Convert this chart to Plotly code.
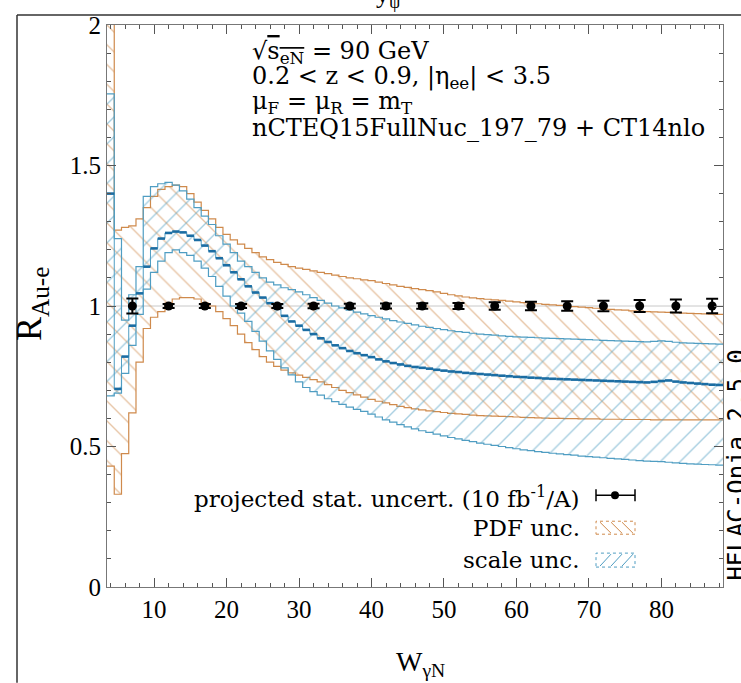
import plotly.graph_objects as go

# ---------------- data ----------------
W_CENTERS = [4, 5, 6, 7, 8, 9, 10, 11, 12, 13, 14, 15, 16, 17, 18, 19, 20, 21, 22, 23,
             24, 25, 26, 27, 28, 29, 30, 31, 32, 33, 34, 35, 36, 37, 38, 39, 40, 41, 42, 43,
             44, 45, 46, 47, 48, 49, 50, 51, 52, 53, 54, 55, 56, 57, 58, 59, 60, 61, 62, 63,
             64, 65, 66, 67, 68, 69, 70, 71, 72, 73, 74, 75, 76, 77, 78, 79, 80, 81, 82, 83,
             84, 85, 86, 87, 88]
BIN_WIDTH = 1.0

R_CENTRAL = [1.40, 0.705, 0.82, 0.93, 1.045, 1.14, 1.205, 1.24, 1.26, 1.265, 1.262, 1.25, 1.235, 1.215, 1.195, 1.17, 1.145, 1.12, 1.095, 1.07,
             1.048, 1.03, 1.01, 0.99, 0.965, 0.945, 0.93, 0.915, 0.90, 0.885, 0.872, 0.86, 0.85, 0.84, 0.832, 0.825, 0.818, 0.81, 0.803, 0.797,
             0.792, 0.787, 0.783, 0.78, 0.777, 0.773, 0.77, 0.767, 0.765, 0.762, 0.76, 0.758, 0.756, 0.754, 0.752, 0.75, 0.748, 0.747, 0.745, 0.744,
             0.742, 0.741, 0.74, 0.739, 0.738, 0.737, 0.736, 0.735, 0.734, 0.733, 0.732, 0.731, 0.73, 0.729, 0.728, 0.73, 0.733, 0.735, 0.731, 0.728,
             0.726, 0.724, 0.722, 0.72, 0.719]

SCALE_HI = [1.755, 1.24, 0.95, 1.04, 1.14, 1.39, 1.425, 1.435, 1.44, 1.43, 1.41, 1.38, 1.35, 1.32, 1.29, 1.25, 1.22, 1.19, 1.16, 1.14,
            1.12, 1.10, 1.085, 1.075, 1.065, 1.058, 1.05, 1.04, 1.03, 1.02, 1.01, 1.00, 0.993, 0.985, 0.978, 0.972, 0.966, 0.96, 0.954, 0.948,
            0.943, 0.938, 0.933, 0.928, 0.924, 0.92, 0.916, 0.912, 0.909, 0.906, 0.903, 0.90, 0.898, 0.896, 0.894, 0.892, 0.89, 0.889, 0.888, 0.887,
            0.886, 0.885, 0.884, 0.883, 0.882, 0.881, 0.88, 0.879, 0.878, 0.877, 0.876, 0.875, 0.874, 0.873, 0.872, 0.874, 0.876, 0.874, 0.871, 0.869,
            0.868, 0.867, 0.866, 0.865, 0.864]

SCALE_LO = [0.68, 0.69, 0.76, 0.86, 0.97, 1.06, 1.12, 1.16, 1.19, 1.20, 1.19, 1.18, 1.16, 1.135, 1.105, 1.07, 1.035, 1.00, 0.975, 0.945,
            0.91, 0.875, 0.84, 0.81, 0.78, 0.755, 0.73, 0.71, 0.695, 0.683, 0.67, 0.66, 0.65, 0.64, 0.632, 0.625, 0.615, 0.605, 0.595, 0.587,
            0.578, 0.57, 0.563, 0.556, 0.55, 0.544, 0.538, 0.532, 0.527, 0.522, 0.517, 0.512, 0.508, 0.504, 0.50, 0.496, 0.492, 0.488, 0.485, 0.482,
            0.479, 0.476, 0.474, 0.471, 0.469, 0.466, 0.464, 0.462, 0.46, 0.458, 0.456, 0.454, 0.452, 0.45, 0.448, 0.447, 0.446, 0.444, 0.442, 0.44,
            0.438, 0.437, 0.436, 0.435, 0.434]

PDF_HI = [2.10, 1.27, 1.28, 1.285, 1.31, 1.35, 1.39, 1.415, 1.425, 1.43, 1.425, 1.40, 1.37, 1.34, 1.31, 1.28, 1.255, 1.235, 1.22, 1.205,
          1.19, 1.175, 1.165, 1.155, 1.148, 1.14, 1.135, 1.13, 1.125, 1.12, 1.115, 1.11, 1.105, 1.10, 1.097, 1.093, 1.09, 1.085, 1.08, 1.075,
          1.07, 1.066, 1.062, 1.058, 1.055, 1.05, 1.045, 1.04, 1.036, 1.032, 1.029, 1.026, 1.024, 1.022, 1.02, 1.017, 1.015, 1.012, 1.01, 1.008,
          1.006, 1.004, 1.002, 1.0, 0.998, 0.996, 0.994, 0.992, 0.99, 0.988, 0.986, 0.985, 0.983, 0.982, 0.98, 0.979, 0.978, 0.977, 0.976, 0.975,
          0.974, 0.973, 0.972, 0.971, 0.970]

PDF_LO = [0.43, 0.33, 0.475, 0.62, 0.80, 0.92, 0.96, 0.98, 1.01, 1.025, 1.03, 1.03, 1.025, 1.01, 1.0, 0.98, 0.955, 0.93, 0.90, 0.87,
          0.845, 0.82, 0.80, 0.785, 0.772, 0.762, 0.754, 0.746, 0.738, 0.73, 0.72, 0.71, 0.70, 0.692, 0.684, 0.676, 0.668, 0.661, 0.655, 0.649,
          0.643, 0.638, 0.634, 0.63, 0.627, 0.624, 0.621, 0.618, 0.616, 0.614, 0.612, 0.61, 0.609, 0.608, 0.607, 0.606, 0.605, 0.604, 0.603, 0.602,
          0.601, 0.60, 0.60, 0.599, 0.599, 0.598, 0.598, 0.598, 0.597, 0.597, 0.597, 0.596, 0.596, 0.596, 0.596, 0.595, 0.595, 0.595, 0.595, 0.595,
          0.595, 0.595, 0.595, 0.595, 0.595]

STAT_X = [7, 12, 17, 22, 27, 32, 37, 42, 47, 52, 57, 62, 67, 72, 77, 82, 87]
STAT_Y = [1.0, 1.0, 1.0, 1.0, 1.0, 1.0, 1.0, 1.0, 1.0, 1.0, 1.0, 1.0, 1.0, 1.0, 1.0, 1.0, 1.0]
STAT_ERR = [0.027, 0.007, 0.007, 0.007, 0.007, 0.008, 0.008, 0.009, 0.010, 0.011, 0.013, 0.015, 0.017, 0.019, 0.021, 0.023, 0.026]

REF_LEVEL = 1.0
X_RANGE = [3.5, 88.5]
Y_RANGE = [0, 2]
X_TICKS = [10, 20, 30, 40, 50, 60, 70, 80]

ORANGE = "#cf8a4c"
BLUE = "#4f9dc2"
DARKBLUE = "#1b6da3"
TICKFONT = "Liberation Serif"
TEXTFONT = "DejaVu Serif"

# ---------------- figure ----------------
W, H = 741, 683
ML, MR, MT, MB = 107, 18, 23, 96


def edges(vals):
    xs = [c - BIN_WIDTH / 2 for c in W_CENTERS] + [W_CENTERS[-1] + BIN_WIDTH / 2]
    ys = list(vals) + [vals[-1]]
    return xs, ys


def flats(vals):
    xs, ys = [], []
    for c, v in zip(W_CENTERS, vals):
        xs += [c - BIN_WIDTH / 2, c + BIN_WIDTH / 2, None]
        ys += [v, v, None]
    return xs, ys


def band(lo, hi, color, shape):
    xl, yl = edges(lo)
    xh, yh = edges(hi)
    return [
        go.Scatter(x=xl, y=yl, mode="lines", line=dict(color=color, width=1.2, shape="hv"),
                   hoverinfo="skip", showlegend=False),
        go.Scatter(x=xh, y=yh, mode="lines", line=dict(color=color, width=1.2, shape="hv"),
                   fill="tonexty", fillcolor="rgba(0,0,0,0)",
                   fillpattern=dict(shape=shape, fgcolor=color, bgcolor="rgba(0,0,0,0)",
                                    size=14, solidity=0.1, fillmode="overlay"),
                   hoverinfo="skip", showlegend=False),
    ]


fig = go.Figure()
for tr in band(PDF_LO, PDF_HI, ORANGE, "\\"):
    fig.add_trace(tr)
for tr in band(SCALE_LO, SCALE_HI, BLUE, "/"):
    fig.add_trace(tr)

# central value: thin step connectors + thick flat bin tops
xc, yc = edges(R_CENTRAL)
fig.add_trace(go.Scatter(x=xc, y=yc, mode="lines", line=dict(color=BLUE, width=1, shape="hv"),
                         hoverinfo="skip", showlegend=False))
xf, yf = flats(R_CENTRAL)
fig.add_trace(go.Scatter(x=xf, y=yf, mode="lines", line=dict(color=DARKBLUE, width=2.6),
                         connectgaps=False, hoverinfo="skip", showlegend=False))

fig.add_trace(go.Scatter(x=STAT_X, y=STAT_Y, mode="markers",
                         marker=dict(color="black", size=9),
                         error_y=dict(type="data", array=STAT_ERR, color="black", thickness=2, width=6),
                         showlegend=False))

fig.add_shape(type="line", xref="paper", x0=0, x1=1, yref="y", y0=REF_LEVEL, y1=REF_LEVEL,
              line=dict(color="#c8c8c8", width=1), layer="below")

axis_common = dict(showline=True, linecolor="#777777", linewidth=1.2, mirror="ticks",
                   ticks="inside", tickcolor="#555555", ticklen=9, tickwidth=1.2,
                   showgrid=False, zeroline=False,
                   tickfont=dict(family=TICKFONT, size=25, color="black"))

fig.update_xaxes(range=X_RANGE, tickvals=X_TICKS,
                 minor=dict(dtick=2, tick0=0, ticklen=4, ticks="inside", tickcolor="#555555"),
                 **axis_common)
fig.update_yaxes(range=Y_RANGE, dtick=0.5, tick0=0,
                 minor=dict(dtick=0.1, tick0=0, ticklen=4, ticks="inside", tickcolor="#555555"),
                 **axis_common)

pw, ph = W - ML - MR, H - MT - MB


def px(xp):
    return (xp - ML) / pw


def py(yp):
    return (H - MB - yp) / ph


ann = []
info_lines = [
    "√<span style='text-decoration:overline'>s<sub>eN</sub></span> = 90 GeV",
    "0.2 < z < 0.9, |η<sub>ee</sub>| < 3.5",
    "μ<sub>F</sub> = μ<sub>R</sub> = m<sub>T</sub>",
    "nCTEQ15FullNuc_197_79 + CT14nlo",
]
for i, t in enumerate(info_lines):
    ann.append(dict(text=t, x=px(250), y=py(51 + 25 * i), xanchor="left", yanchor="middle",
                    xref="paper", yref="paper", showarrow=False,
                    font=dict(family=TEXTFONT, size=24, color="black")))

leg_text = ["projected stat. uncert. (10 fb<sup>-1</sup>/A)", "PDF unc.", "scale unc."]
leg_y = [497, 528, 560]
for t, yy in zip(leg_text, leg_y):
    ann.append(dict(text=t, x=px(582), y=py(yy), xanchor="right", yanchor="middle",
                    xref="paper", yref="paper", showarrow=False,
                    font=dict(family=TEXTFONT, size=23, color="black")))

ann.append(dict(text="R<sub>Au-e</sub>", x=px(31), y=py(303), xanchor="center", yanchor="middle",
                textangle=-90, xref="paper", yref="paper", showarrow=False,
                font=dict(family=TICKFONT, size=36, color="black")))
ann.append(dict(text="W<sub>γN</sub>", x=px(420), y=py(664), xanchor="center", yanchor="middle",
                xref="paper", yref="paper", showarrow=False,
                font=dict(family=TICKFONT, size=28, color="black")))
ann.append(dict(text="HELAC-Onia 2.5.0", x=px(737), y=py(465), xanchor="center", yanchor="middle",
                textangle=-90, xref="paper", yref="paper", showarrow=False,
                font=dict(family="DejaVu Sans Mono", size=24, color="black")))
ann.append(dict(text="y<sub>ψ</sub>", x=px(388), y=py(12), xanchor="center", yanchor="bottom",
                xref="paper", yref="paper", showarrow=False,
                font=dict(family=TICKFONT, size=26, color="black")))
fig.update_layout(annotations=ann)

# legend samples
shapes = []
shapes.append(dict(type="line", xref="paper", yref="paper", x0=px(596), x1=px(635), y0=py(495), y1=py(495),
                   line=dict(color="black", width=1.5)))
for xx in (596, 635):
    shapes.append(dict(type="line", xref="paper", yref="paper", x0=px(xx), x1=px(xx), y0=py(489), y1=py(501),
                       line=dict(color="black", width=1.5)))
shapes.append(dict(type="circle", xref="paper", yref="paper", x0=px(611), x1=px(619), y0=py(491), y1=py(499),
                   fillcolor="black", line=dict(color="black", width=0)))
for (y0, y1, col, direction) in [(521, 534, ORANGE, -1), (553, 567, BLUE, 1)]:
    shapes.append(dict(type="rect", xref="paper", yref="paper", x0=px(596), x1=px(635), y0=py(y1), y1=py(y0),
                       line=dict(color=col, width=1, dash="dot")))
    for k in range(3):
        xa = 600 + 11 * k
        if direction < 0:
            shapes.append(dict(type="line", xref="paper", yref="paper", x0=px(xa), x1=px(xa + 11),
                               y0=py(y0 + 1), y1=py(y1 - 1), line=dict(color=col, width=1)))
        else:
            shapes.append(dict(type="line", xref="paper", yref="paper", x0=px(xa), x1=px(xa + 11),
                               y0=py(y1 - 1), y1=py(y0 + 1), line=dict(color=col, width=1)))
shapes.append(dict(type="line", xref="paper", yref="paper", x0=px(17), x1=px(741), y0=py(13), y1=py(13),
                   line=dict(color="#333333", width=1.5)))
shapes.append(dict(type="line", xref="paper", yref="paper", x0=px(17), x1=px(17), y0=py(13), y1=py(683),
                   line=dict(color="#333333", width=1.5)))
for s in shapes:
    fig.add_shape(**s)

fig.update_layout(width=W, height=H, margin=dict(l=ML, r=MR, t=MT, b=MB),
                  plot_bgcolor="white", paper_bgcolor="white", showlegend=False)

fig.write_html("out.html")
